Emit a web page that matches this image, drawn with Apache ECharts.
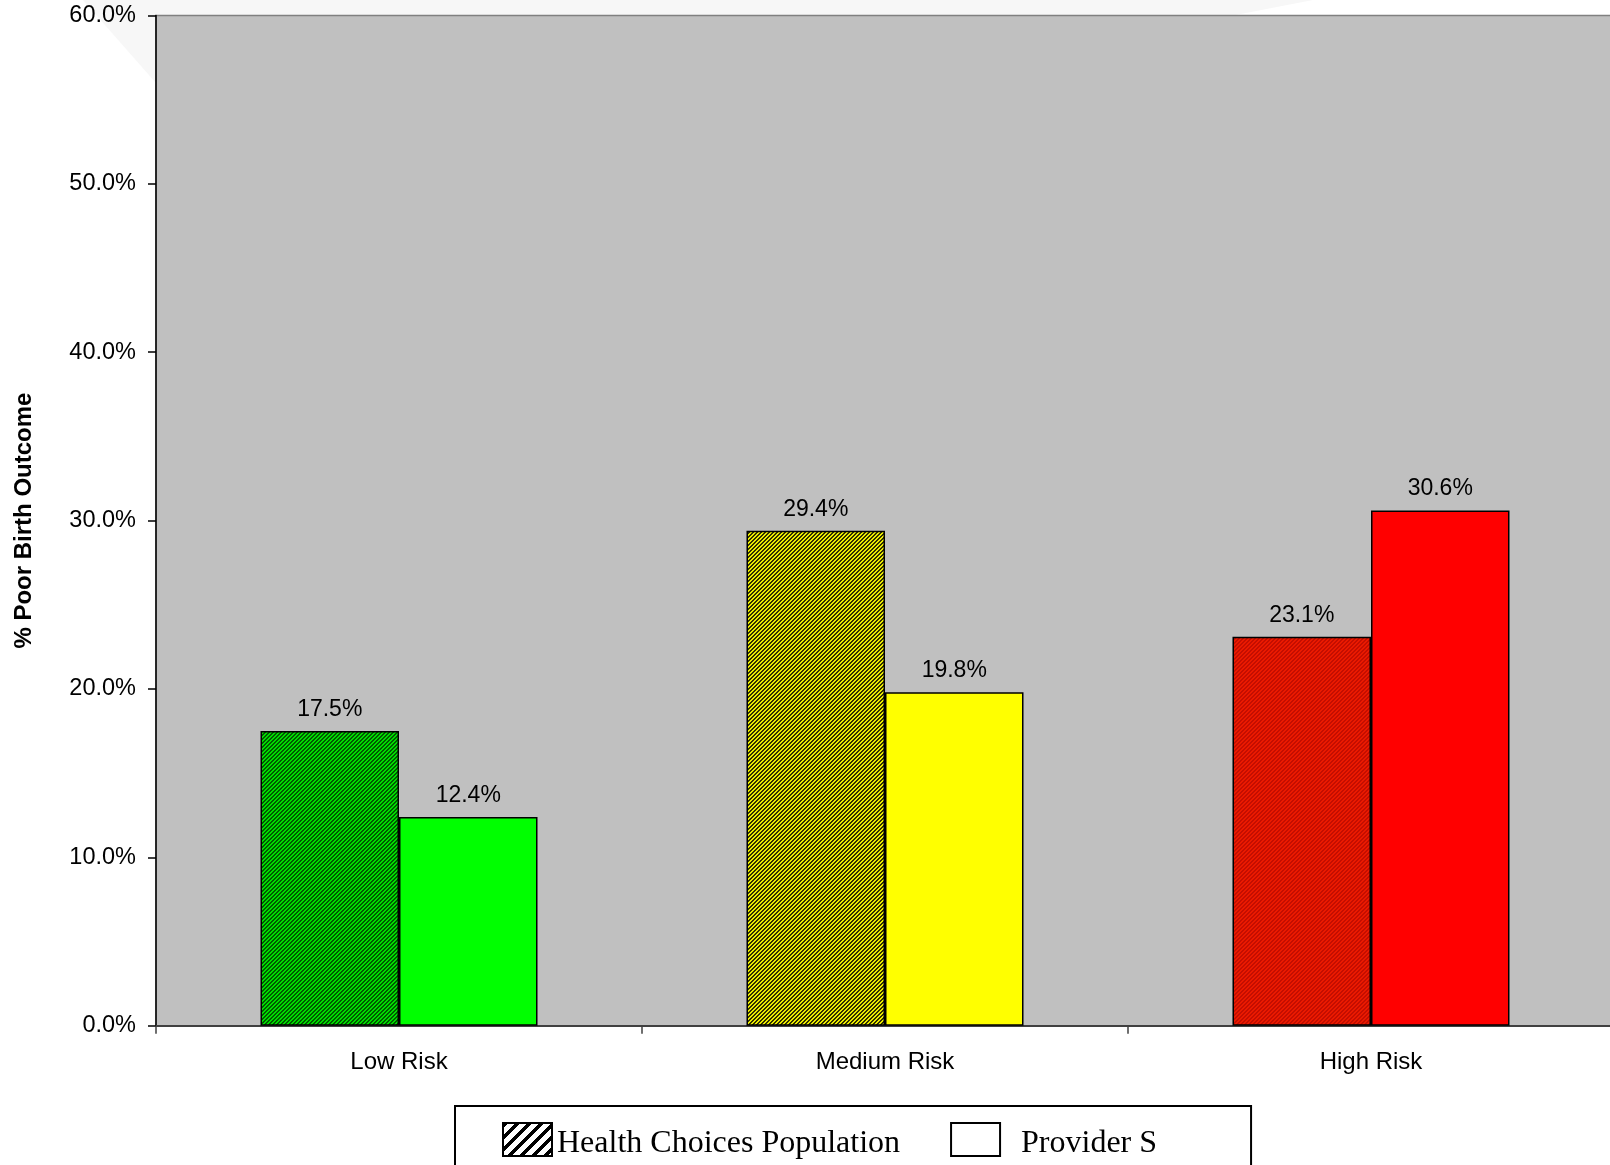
<!DOCTYPE html>
<html>
<head>
<meta charset="utf-8">
<script src="https://cdn.jsdelivr.net/npm/echarts@6/dist/echarts.min.js"></script>
<style>
html,body{margin:0;padding:0;background:#fff;}
#main{width:1610px;height:1165px;}
</style>
</head>
<body>
<div id="main"></div>
<script>
var categories = ['Low Risk', 'Medium Risk', 'High Risk'];
var seriesNames = ['Health Choices Population', 'Provider S'];
var healthChoices = [17.5, 29.4, 23.1];
var providerS = [12.4, 19.8, 30.6];
var yTicks = [0, 10, 20, 30, 40, 50, 60];

function hatchTile(base, dark, size, on) {
  var c = document.createElement('canvas');
  c.width = size; c.height = size;
  var ctx = c.getContext('2d');
  ctx.fillStyle = base; ctx.fillRect(0, 0, size, size);
  ctx.fillStyle = dark;
  for (var y = 0; y < size; y++) {
    for (var x = 0; x < size; x++) {
      if (((x + y) % size) < on) ctx.fillRect(x, y, 1, 1);
    }
  }
  return {image: c, repeat: 'repeat'};
}

var hcFill = [
  hatchTile('#00dc00', '#005a00', 4, 2),
  hatchTile('#ecec00', '#303000', 4, 2),
  hatchTile('#ea1a00', '#c40e00', 4, 2)
];
var psFill = ['#00ff00', '#ffff00', '#ff0000'];
var legendHatch = hatchTile('#ffffff', '#000000', 12, 5);

var chart = echarts.init(document.getElementById('main'), null, {renderer: 'canvas'});

var fontSans = 'Liberation Sans, Arial, sans-serif';
var fontSerif = 'Liberation Serif, Times New Roman, serif';

chart.setOption({
  backgroundColor: '#ffffff',
  animation: false,
  graphic: [{
    type: 'polygon',
    z: -10,
    silent: true,
    shape: {points: [[83, 0], [1313, 0], [1233, 15.5], [156, 15.5], [156, 83]]},
    style: {fill: '#f7f7f7'}
  }],
  grid: {
    left: 156, top: 15.5, right: -4, bottom: 139.3,
    containLabel: false,
    outerBoundsMode: 'none',
    show: true, backgroundColor: '#c0c0c0', borderColor: '#808080', borderWidth: 1.5
  },
  legend: {
    left: 455, top: 1106,
    orient: 'horizontal',
    padding: [16, 94, 40, 47],
    itemGap: 50,
    itemWidth: 49, itemHeight: 33,
    itemTextGap: -2,
    borderColor: '#000', borderWidth: 2,
    backgroundColor: '#fff',
    icon: 'rect',
    textStyle: {
      fontFamily: fontSerif, fontSize: 32, color: '#000',
      rich: {t: {fontFamily: fontSerif, fontSize: 32, color: '#000', padding: [8, 0, 0, 0]}}
    },
    formatter: function (n) { return '{t|' + (n === seriesNames[1] ? '  ' + n : n) + '}'; },
    data: [
      {name: seriesNames[0], itemStyle: {color: legendHatch, borderColor: '#000', borderWidth: 2}},
      {name: seriesNames[1], itemStyle: {color: '#ffffff', borderColor: '#000', borderWidth: 2}}
    ]
  },
  xAxis: {
    type: 'category',
    data: categories,
    axisLine: {lineStyle: {color: '#404040', width: 2}},
    axisTick: {show: true, length: 8, lineStyle: {color: '#404040', width: 1.5}},
    axisLabel: {fontFamily: fontSans, fontSize: 24, color: '#000', margin: 25}
  },
  yAxis: {
    type: 'value',
    min: yTicks[0], max: yTicks[yTicks.length - 1], interval: 10,
    name: '% Poor Birth Outcome',
    nameLocation: 'middle',
    nameGap: 120,
    nameRotate: 90,
    nameTextStyle: {fontFamily: fontSans, fontSize: 24, fontWeight: 'bold', color: '#000'},
    axisLine: {show: true, lineStyle: {color: '#000', width: 1.5}},
    axisTick: {show: true, length: 8, lineStyle: {color: '#000', width: 1.5}},
    splitLine: {show: false},
    axisLabel: {
      fontFamily: fontSans, fontSize: 23.5, color: '#000', margin: 20,
      formatter: function (v) { return v.toFixed(1) + '%'; }
    }
  },
  series: [
    {
      name: seriesNames[0], type: 'bar',
      barGap: '0%', barCategoryGap: '43%',
      data: healthChoices.map(function (v, i) {
        return {value: v, itemStyle: {color: hcFill[i], borderColor: '#000', borderWidth: 1.5}};
      }),
      label: {show: true, position: 'top', distance: 10, fontFamily: fontSans, fontSize: 23, color: '#000',
        formatter: function (p) { return p.value.toFixed(1) + '%'; }}
    },
    {
      name: seriesNames[1], type: 'bar',
      barGap: '0%', barCategoryGap: '43%',
      data: providerS.map(function (v, i) {
        return {value: v, itemStyle: {color: psFill[i], borderColor: '#000', borderWidth: 1.5}};
      }),
      label: {show: true, position: 'top', distance: 10, fontFamily: fontSans, fontSize: 23, color: '#000',
        formatter: function (p) { return p.value.toFixed(1) + '%'; }}
    }
  ]
});
</script>
</body>
</html>
